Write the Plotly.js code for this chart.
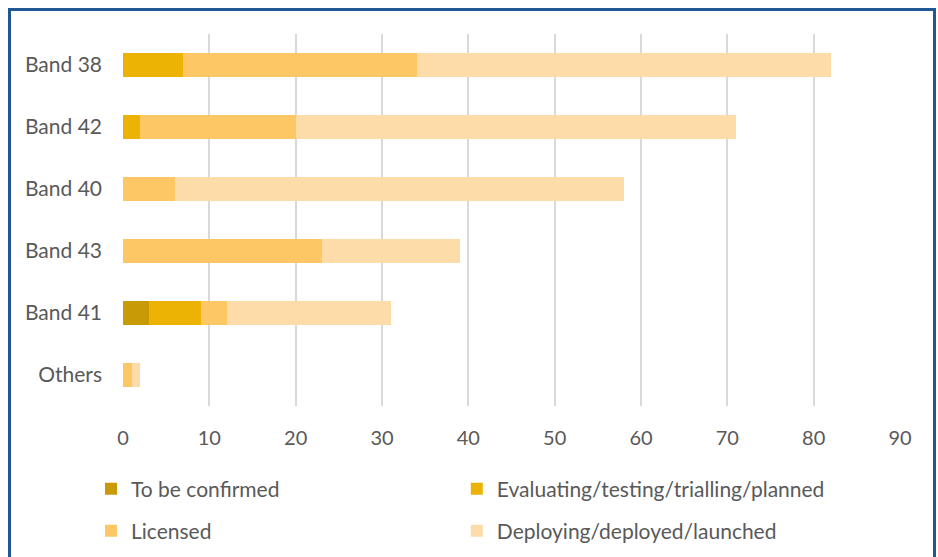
<!DOCTYPE html>
<html>
<head>
<meta charset="utf-8">
<script src="https://cdn.plot.ly/plotly-3.0.1.min.js"></script>
<style>
html,body{margin:0;padding:0;background:#fff;overflow:hidden;}
#wrap{position:relative;width:938px;height:557px;}
#chart{position:absolute;left:0;top:0;width:938px;height:557px;}
#frame{position:absolute;left:8px;top:8px;width:922px;height:560px;border:3px solid #1f5892;border-bottom:none;pointer-events:none;}
</style>
</head>
<body>
<div id="wrap"><div id="chart"></div><div id="frame"></div></div>
<script>
const categories = ["Band 38","Band 42","Band 40","Band 43","Band 41","Others"];
const toBeConfirmed = [0, 0, 0, 0, 3, 0];
const evaluating = [7, 2, 0, 0, 6, 0];
const licensed = [27, 18, 6, 23, 3, 1];
const deploying = [48, 51, 52, 16, 19, 1];
const xTicks = [0,10,20,30,40,50,60,70,80,90];

const FONT = "Lato, 'Open Sans', sans-serif";
const GRAY = "#595959";

function mk(name, vals, color, legend){
  return {type:"bar", orientation:"h", name:name, x:vals, y:categories,
    marker:{color:color, line:{width:0}}, legend:legend, hoverinfo:"x+name"};
}
const data = [
  mk("To be confirmed", toBeConfirmed, "#c89a06", "legend"),
  mk("Evaluating/testing/trialling/planned", evaluating, "#edb304", "legend2"),
  mk("Licensed", licensed, "#fdc766", "legend3"),
  mk("Deploying/deployed/launched", deploying, "#fddcaa", "legend4")
];
function leg(x, y){
  return {orientation:"h", xref:"container", yref:"container", xanchor:"left", yanchor:"middle",
    x:x, y:y, font:{family:FONT, size:21, color:GRAY}, bgcolor:"rgba(0,0,0,0)"};
}
const layout = {
  width:938, height:557,
  margin:{l:123, r:38, t:34, b:151},
  paper_bgcolor:"rgba(0,0,0,0)", plot_bgcolor:"rgba(0,0,0,0)",
  barmode:"stack", bargap:0.61,
  font:{family:FONT, color:GRAY, size:21},
  xaxis:{range:[0,90], tickvals:xTicks, ticktext:xTicks.map(String), showgrid:true,
    gridcolor:"#d9d9d9", gridwidth:2, zeroline:false, showline:false, ticks:"",
    ticklabelstandoff:18,
    tickfont:{family:FONT, size:20, color:GRAY}, fixedrange:true},
  yaxis:{categoryorder:"array", categoryarray:categories, autorange:"reversed",
    showgrid:false, zeroline:false, showline:false, ticks:"", ticklabelstandoff:20,
    tickfont:{family:FONT, size:21, color:GRAY}, fixedrange:true},
  legend:leg(0.097, 0.122),
  legend2:leg(0.487, 0.122),
  legend3:leg(0.097, 0.0467),
  legend4:leg(0.487, 0.0467),
  showlegend:true
};
Plotly.newPlot("chart", data, layout, {displayModeBar:false, staticPlot:true});
</script>
</body>
</html>
